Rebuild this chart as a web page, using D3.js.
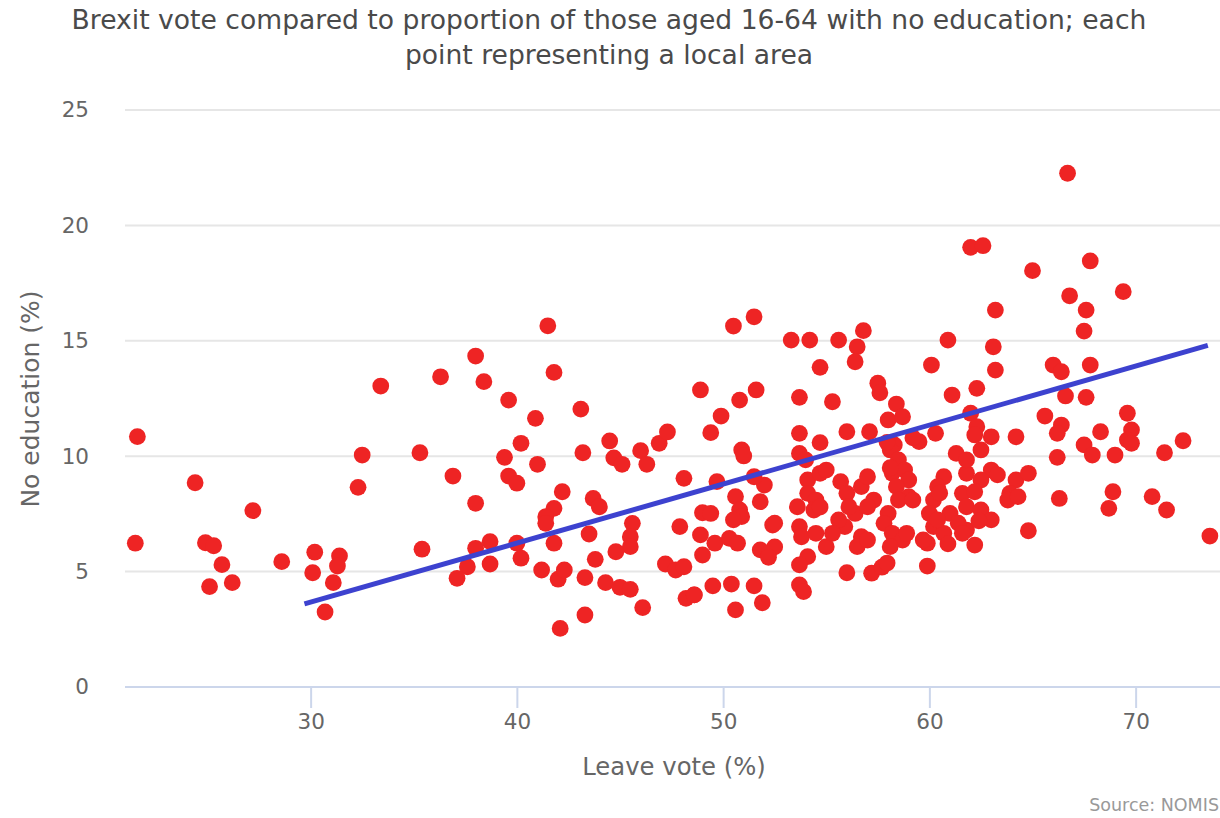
<!DOCTYPE html>
<html>
<head>
<meta charset="utf-8">
<script src="https://cdn.jsdelivr.net/npm/d3@7"></script>
<style>
  html, body { margin: 0; padding: 0; background: #fff; }
  svg { display: block; }
  text { font-family: "DejaVu Sans", sans-serif; }
</style>
</head>
<body>
<svg id="chart" width="1220" height="818"></svg>
<script>
// ---- Data ----
const titleLines = [
  "Brexit vote compared to proportion of those aged 16-64 with no education; each",
  "point representing a local area"
];
const xTicks = [30, 40, 50, 60, 70];
const yTicks = [0, 5, 10, 15, 20, 25];

// Leave vote (%) for each local area
const leaveVote = [
  21.6, 32.5, 24.4, 32.3, 27.2, 21.5, 24.9, 25.3, 25.7, 25.1, 26.2, 28.6, 30.2, 30.1, 31.4, 31.3, 31.1, 30.7, 33.4,
  41.5, 38.0, 36.3, 38.4, 41.8, 39.6, 40.9, 43.1, 35.3, 40.2, 39.4, 41.0, 43.2, 44.5, 44.7, 45.1, 46.0, 46.3, 46.9, 47.3,
  36.9, 39.6, 40.0, 48.1, 38.0, 42.2, 43.7, 44.0, 41.8, 41.4, 41.4, 45.6, 45.5, 45.5, 44.8, 47.9, 43.5, 41.8, 40.0, 40.2,
  38.7, 38.0, 37.6, 38.7, 37.1, 35.4, 41.2, 42.0, 42.3, 43.3, 43.8, 44.3, 45.0, 45.5, 46.1, 43.3, 42.1, 47.2, 47.7, 48.1, 48.2,
  51.5, 50.5, 53.3, 54.2, 55.6, 56.8, 56.5, 56.4, 60.9, 54.7, 60.1, 57.5, 57.6, 48.9, 51.6, 50.8, 53.7, 55.3, 61.1, 49.9,
  58.4, 49.4, 53.7, 56.0, 57.1, 58.0, 58.7, 50.9, 51.0, 54.7, 53.7, 58.3, 59.5, 60.3, 61.3, 49.7, 52.0, 51.5, 50.6, 50.8,
  50.9, 51.8, 50.5, 49.0, 49.4, 48.9, 49.6, 49.0, 50.3, 50.7, 52.4, 51.8, 52.2, 48.6, 49.5, 50.4, 51.5, 50.6, 51.9, 53.7,
  53.9, 56.0, 57.2, 57.7, 59.9, 53.6, 54.1, 54.1, 54.5, 53.7, 54.4, 54.7, 55.0, 53.8, 54.5, 55.0, 54.1, 53.7, 54.0, 55.7,
  56.0, 56.4, 56.7, 57.0, 57.3, 57.0, 56.7, 56.5, 55.9, 55.6, 55.3, 57.0, 56.1, 58.1, 58.5, 58.2, 58.8, 59.0, 58.4, 59.0,
  58.5, 58.0, 57.8, 58.2, 58.7, 58.1, 60.7, 60.4, 60.2, 60.0, 60.2, 59.9, 60.7, 61.0, 61.6, 61.8,
  66.7, 62.0, 62.6, 67.8, 65.0, 69.4, 66.8, 67.6, 63.2, 67.5, 63.1, 63.2, 66.0, 66.4, 67.8, 62.3, 66.6, 67.6, 65.6, 66.4,
  66.2, 69.6, 69.8, 68.3, 64.2, 67.5, 67.9, 69.6, 69.8, 69.0, 66.2, 72.3, 71.4, 68.9, 68.7, 70.8, 71.5, 66.3, 64.8, 73.6,
  62.0, 62.3, 62.2, 63.0, 62.5, 61.8, 63.0, 63.3, 62.5, 62.2, 61.8, 62.5, 63.0, 61.8, 62.2, 64.2, 64.8, 63.9, 63.8, 64.3,
  52.5, 52.5, 54.7, 57.95, 59.2, 57.95, 58.1, 60.5, 59.2, 60.4, 61.4, 62.4, 58.9, 61.6, 59.7, 60.9, 48.6, 52.2
];
// Proportion aged 16-64 with no education (%), same order
const noEducation = [
  10.85, 10.05, 8.85, 8.65, 7.64, 6.23, 6.25, 6.12, 5.30, 4.35, 4.52, 5.43, 5.84, 4.95, 5.68, 5.24, 4.52, 3.25, 13.04,
  15.65, 14.34, 13.44, 13.23, 13.63, 12.43, 11.64, 12.04, 10.15, 10.56, 9.95, 9.65, 10.15, 10.66, 9.93, 9.65, 10.24, 9.65, 10.56, 11.05,
  9.14, 9.14, 8.83, 9.04, 7.96, 8.46, 8.17, 7.81, 7.74, 7.38, 7.09, 7.09, 6.51, 6.08, 5.86, 6.95, 6.63, 6.23, 6.23, 5.58,
  6.30, 6.01, 5.21, 5.33, 4.71, 5.97, 5.07, 4.67, 5.07, 4.74, 5.53, 4.52, 4.32, 4.23, 3.44, 3.12, 2.54, 5.33, 5.07, 5.21, 3.84,
  16.04, 15.64, 15.03, 15.03, 15.03, 15.44, 14.74, 14.09, 15.03, 13.85, 13.95, 13.16, 12.75, 12.87, 12.87, 12.43, 12.55, 12.36, 12.65, 11.74,
  12.26, 11.02, 10.99, 11.06, 11.06, 11.57, 11.71, 10.27, 10.01, 10.59, 10.12, 10.49, 10.63, 10.99, 10.12, 8.90, 8.75, 9.11, 8.25, 7.67,
  7.38, 8.03, 7.24, 7.55, 7.52, 6.59, 6.23, 5.72, 6.44, 6.23, 7.02, 5.94, 5.79, 3.99, 4.38, 4.46, 4.38, 3.34, 3.65, 4.42,
  4.13, 4.95, 4.93, 5.19, 5.24, 7.81, 8.97, 8.39, 8.10, 6.95, 7.67, 9.26, 9.40, 6.51, 6.66, 6.08, 5.65, 5.29, 9.84, 8.90,
  8.39, 7.52, 8.68, 9.11, 8.10, 7.81, 6.51, 6.08, 6.95, 7.24, 6.66, 6.37, 7.81, 10.27, 9.84, 9.26, 9.40, 8.97, 8.68, 8.25,
  8.10, 7.52, 7.09, 6.66, 6.37, 6.08, 9.11, 8.68, 8.10, 7.52, 6.95, 6.23, 6.66, 7.52, 8.39, 9.26,
  22.26, 19.05, 19.12, 18.46, 18.04, 17.13, 16.95, 16.33, 16.33, 15.42, 14.74, 13.73, 13.95, 13.66, 13.95, 12.94, 12.61, 12.55, 11.74, 11.35,
  10.99, 11.86, 11.14, 11.06, 10.84, 10.49, 10.05, 10.70, 10.56, 10.05, 9.95, 10.67, 10.15, 8.46, 7.74, 8.25, 7.67, 8.17, 6.77, 6.54,
  11.86, 11.28, 10.92, 10.84, 10.27, 9.84, 9.40, 9.19, 8.97, 8.46, 7.81, 7.67, 7.24, 6.80, 6.15, 8.97, 9.26, 8.39, 8.10, 8.25,
  7.10, 6.07, 7.80, 5.37, 10.80, 10.60, 9.50, 8.40, 8.10, 7.24, 7.10, 7.20, 6.66, 6.66, 6.37, 6.20, 3.99, 5.62
];
// Trend line end points
const trendLeave = [29.7, 73.5];
const trendNoEdu = [3.6, 14.8];

// ---- Drawing ----
const svg = d3.select("#chart");
const plot = { left: 125, right: 1218, top: 110, bottom: 687 };

const x = d3.scaleLinear().domain([21, 74]).range([plot.left, plot.left + 53 * 20.625]);
const y = d3.scaleLinear().domain([0, 25]).range([plot.bottom, plot.top]);

// Title
svg.append("g").selectAll("text").data(titleLines).join("text")
  .attr("x", 609).attr("y", (d, i) => 29 + i * 35)
  .attr("text-anchor", "middle")
  .attr("fill", "#4a4a4a")
  .attr("font-size", 26.6)
  .text(d => d);

// Grid lines
svg.append("g").selectAll("line").data(yTicks.filter(t => t > 0)).join("line")
  .attr("x1", plot.left).attr("x2", 1220)
  .attr("y1", d => y(d)).attr("y2", d => y(d))
  .attr("stroke", "#e6e6e6").attr("stroke-width", 2);

// Y axis labels
const yAxis = d3.axisLeft(y).tickValues(yTicks).tickSize(0).tickPadding(0);
const gy = svg.append("g").attr("transform", `translate(${89},0)`).call(yAxis);
gy.select(".domain").remove();
gy.selectAll("text").attr("font-size", 21.5).attr("fill", "#666").attr("font-family", "DejaVu Sans, sans-serif");

// X axis
const xAxis = d3.axisBottom(x).tickValues(xTicks).tickSize(21).tickPadding(6);
const gx = svg.append("g").attr("transform", `translate(0,${plot.bottom})`).call(xAxis);
gx.select(".domain").attr("d", `M${plot.left},0H1220`).attr("stroke", "#ccd6eb").attr("stroke-width", 2);
gx.selectAll(".tick line").attr("stroke", "#ccd6eb").attr("stroke-width", 2);
gx.selectAll("text").attr("font-size", 21.5).attr("fill", "#666").attr("font-family", "DejaVu Sans, sans-serif");

// Axis titles
svg.append("text")
  .attr("x", 674).attr("y", 775)
  .attr("text-anchor", "middle").attr("fill", "#666").attr("font-size", 24.3)
  .text("Leave vote (%)");
svg.append("text")
  .attr("transform", "translate(39,399) rotate(-90)")
  .attr("text-anchor", "middle").attr("fill", "#666").attr("font-size", 25)
  .text("No education (%)");

// Points
const pts = leaveVote.map((v, i) => ({ lv: v, ne: noEducation[i] }));
svg.append("g").selectAll("circle").data(pts).join("circle")
  .attr("cx", d => x(d.lv)).attr("cy", d => y(d.ne))
  .attr("r", 8.4)
  .attr("fill", "#ee2424");

// Trend line
const line = d3.line().x(d => x(d[0])).y(d => y(d[1]));
svg.append("path")
  .datum(trendLeave.map((v, i) => [v, trendNoEdu[i]]))
  .attr("d", line)
  .attr("fill", "none").attr("stroke", "#3d42cf").attr("stroke-width", 5);

// Credits
svg.append("text")
  .attr("x", 1219).attr("y", 811)
  .attr("text-anchor", "end").attr("fill", "#999").attr("font-size", 17.5)
  .text("Source: NOMIS");
</script>
</body>
</html>
